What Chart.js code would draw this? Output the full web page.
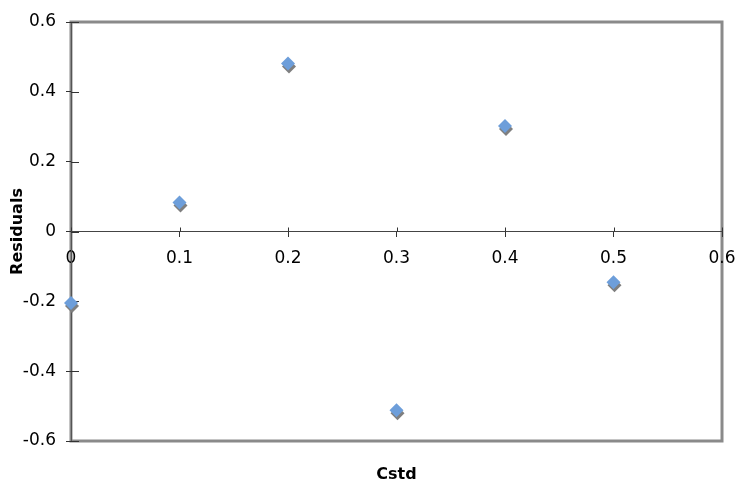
<!DOCTYPE html>
<html>
<head>
<meta charset="utf-8">
<script src="https://cdn.jsdelivr.net/npm/chart.js@4.4.1/dist/chart.umd.min.js"></script>
<style>
  html, body { margin: 0; padding: 0; background: #fff; }
  #wrap { width: 737px; height: 483px; position: relative; }
</style>
</head>
<body>
<div id="wrap"><canvas id="residualChart"></canvas></div>
<script>
// valores
const cstd = [0, 0.1, 0.2, 0.3, 0.4, 0.5];
const residuals = [-0.205, 0.083, 0.481, -0.512, 0.302, -0.145];
const xTicks = [0, 0.1, 0.2, 0.3, 0.4, 0.5, 0.6];
const yTicks = [-0.6, -0.4, -0.2, 0, 0.2, 0.4, 0.6];

const puntos = cstd.map((c, i) => ({ x: c, y: residuals[i] }));

// marco gris del area de trazado (Excel)
const marcoPlot = {
    id: 'marcoPlot',
    beforeDraw(chart) {
        const { ctx, chartArea: a } = chart;
        ctx.save();
        ctx.strokeStyle = '#8a8a8a';
        ctx.lineWidth = 3;
        ctx.strokeRect(a.left, a.top, a.right - a.left, a.bottom - a.top);
        ctx.restore();
    }
};

// parte interior de las marcas (estilo "cruzadas" de Excel)
const marcasCruzadas = {
    id: 'marcasCruzadas',
    beforeDatasetsDraw(chart) {
        const { ctx, scales } = chart;
        const x0 = scales.x.getPixelForValue(0);
        const y0 = scales.y.getPixelForValue(0);
        ctx.save();
        ctx.strokeStyle = '#333';
        ctx.lineWidth = 1;
        ctx.beginPath();
        xTicks.forEach(v => {
            const px = Math.round(scales.x.getPixelForValue(v)) + 0.5;
            ctx.moveTo(px, y0 - 4);
            ctx.lineTo(px, y0);
        });
        yTicks.forEach(v => {
            const py = Math.round(scales.y.getPixelForValue(v)) + 0.5;
            ctx.moveTo(x0, py);
            ctx.lineTo(x0 + 8, py);
        });
        ctx.stroke();
        ctx.restore();
    }
};

// sombra gris debajo de los rombos
const sombraPuntos = {
    id: 'sombraPuntos',
    beforeDatasetsDraw(chart) {
        const ctx = chart.ctx;
        ctx.save();
        ctx.shadowColor = '#7f7f7f';
        ctx.shadowOffsetX = 1;
        ctx.shadowOffsetY = 3;
        ctx.shadowBlur = 0;
    },
    afterDatasetsDraw(chart) {
        chart.ctx.restore();
    }
};

const fuente = 'DejaVu Sans, Verdana, sans-serif';

new Chart(document.getElementById('residualChart'), {
    type: 'scatter',
    data: {
        datasets: [{
            label: 'Residuals',
            data: puntos,
            pointStyle: 'rectRot',
            pointRadius: 7,
            pointHoverRadius: 7,
            backgroundColor: '#6d9eda',
            borderColor: '#6d9eda',
            borderWidth: 0,
            clip: false
        }]
    },
    options: {
        responsive: true,
        maintainAspectRatio: false,
        animation: false,
        layout: { padding: { left: 0, right: 15, top: 22, bottom: 0 } },
        plugins: {
            legend: { display: false },
            tooltip: { enabled: false },
            title: {
                display: true,
                position: 'bottom',
                fullSize: false,
                text: 'Cstd',
                color: '#000',
                font: { family: fuente, size: 16, weight: 'bold', lineHeight: 1 },
                padding: { top: 26, bottom: 0 }
            }
        },
        scales: {
            x: {
                type: 'linear',
                position: { y: 0 },
                min: 0,
                max: 0.6,
                afterBuildTicks: (scale) => { scale.ticks = xTicks.map(v => ({ value: v })); },
                afterFit: (scale) => { scale.paddingLeft = 0; scale.paddingRight = 0; },
                ticks: {
                    color: '#000',
                    font: { family: fuente, size: 17 },
                    padding: 12,
                    maxRotation: 0,
                    callback: (v) => String(Math.round(v * 10) / 10)
                },
                grid: { drawOnChartArea: false, drawTicks: true, tickLength: 5, color: '#333' },
                border: { display: true, color: '#444', width: 1 }
            },
            y: {
                type: 'linear',
                position: 'left',
                min: -0.6,
                max: 0.6,
                afterBuildTicks: (scale) => { scale.ticks = yTicks.map(v => ({ value: v })); },
                afterFit: (scale) => { scale.width = 71; },
                ticks: {
                    color: '#000',
                    font: { family: fuente, size: 17 },
                    padding: 10,
                    callback: (v) => String(Math.round(v * 10) / 10)
                },
                grid: { drawOnChartArea: false, drawTicks: true, tickLength: 5, color: '#333' },
                border: { display: true, color: '#555', width: 1 },
                title: {
                    display: true,
                    text: 'Residuals',
                    color: '#000',
                    font: { family: fuente, size: 16, weight: 'bold', lineHeight: 1 },
                    padding: { top: 10, bottom: 0 }
                }
            }
        }
    },
    plugins: [marcoPlot, marcasCruzadas, sombraPuntos]
});
</script>
</body>
</html>
